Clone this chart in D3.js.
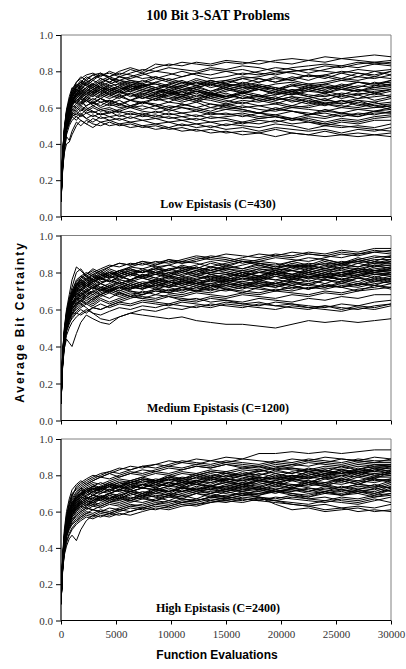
<!DOCTYPE html>
<html>
<head>
<meta charset="utf-8">
<script src="https://cdn.jsdelivr.net/npm/d3@7"></script>
<style>
  html, body { margin: 0; padding: 0; background: #fff; }
  svg { display: block; }
</style>
</head>
<body>
<svg id="chart" width="406" height="669"></svg>
<script>
// ---- DATA (bit certainty, in hundredths) ----
const evaluations = [0,150,300,500,750,1000,1400,1800,2300,2900,3600,4400,5300,6300,7400,8600,9800,11000,12300,13600,15000,16500,18000,19500,21000,22500,24000,25500,27000,28500,30000];

const lowRuns = [
[12,34,48,58,64,70,74,76,78, 79,77,80,78,81,79,82,84,83,85,84,86,85,84,86,87,86,88,87,88,89,88],
[10,32,45,55,62,67,72,75,73, 76,78,77,80,82,80,84,83,85,84,83,85,84,86,85,84,86,85,87,86,85,86],
[14,36,47,56,63,68,71,74,77, 75,78,79,77,79,81,80,82,81,80,82,81,83,82,80,82,83,84,83,85,84,85],
[9,30,44,53,60,66,70,73,75, 78,76,74,77,76,78,80,79,77,79,81,80,78,80,82,81,79,81,83,82,84,83],
[11,33,46,57,64,69,73,71,74, 72,75,77,79,78,76,77,75,77,79,78,80,81,79,78,80,81,80,79,81,80,81],
[13,35,49,59,66,71,69,72,76, 78,79,76,75,77,79,76,78,80,78,76,77,79,78,80,79,77,78,80,79,78,80],
[8,28,41,51,59,64,68,70,73, 71,74,76,73,75,74,77,75,73,76,74,75,77,76,74,76,78,77,75,77,76,78],
[10,31,43,54,61,65,67,71,69, 72,70,73,75,73,72,74,76,74,73,75,73,72,74,76,75,73,74,76,75,77,76],
[12,33,47,56,62,67,70,68,71, 73,71,70,72,74,73,71,73,75,72,74,72,73,71,73,74,72,73,75,74,73,75],
[9,29,42,52,60,63,68,70,67, 70,72,74,71,70,72,73,71,72,74,71,73,71,72,70,72,73,71,72,74,73,74],
[11,32,44,55,61,66,69,66,69, 71,69,72,73,71,69,70,72,70,71,73,70,72,70,71,69,71,72,70,72,71,73],
[13,34,46,54,60,64,66,69,71, 68,70,68,70,72,71,69,68,70,69,67,69,71,70,68,70,69,71,70,69,71,72],
[10,30,43,53,58,62,65,68,66, 69,67,70,68,69,67,70,69,67,69,68,66,68,70,68,67,69,68,70,69,70,71],
[8,27,40,50,57,61,64,66,69, 67,70,67,69,66,68,66,68,67,65,67,66,68,66,67,69,67,66,68,67,69,70],
[12,33,45,54,59,63,63,66,64, 67,65,68,66,68,65,67,65,66,68,65,67,65,66,64,66,65,67,66,68,67,69],
[10,31,44,52,57,62,65,63,66, 64,67,65,67,64,66,64,65,63,65,64,62,64,63,65,64,62,64,63,65,66,67],
[11,30,42,51,56,60,62,65,63, 65,63,64,62,64,63,61,63,62,60,62,61,63,61,62,60,61,63,62,64,63,65],
[9,28,39,49,55,59,61,63,61, 63,65,62,64,61,63,62,60,61,63,60,62,60,61,59,61,60,62,61,60,62,63],
[13,33,44,53,57,61,60,62,64, 61,63,61,62,60,61,59,61,60,58,60,59,61,59,58,60,59,58,60,59,60,61],
[10,30,41,50,55,58,60,58,61, 63,60,62,60,61,59,61,58,60,59,57,59,58,57,59,58,56,58,57,59,58,60],
[8,26,37,47,53,57,59,61,59, 61,59,60,58,60,58,57,59,57,58,56,57,55,57,56,58,57,55,57,56,58,59],
[12,31,42,51,55,59,58,60,58, 60,58,59,57,58,56,58,56,57,55,57,56,57,55,56,54,56,57,55,57,56,58],
[10,29,40,48,53,56,58,56,59, 57,59,57,58,56,57,55,57,55,56,54,55,56,54,55,53,55,54,56,55,57,57],
[11,30,41,50,54,57,56,59,57, 58,56,58,55,57,55,56,54,55,53,55,54,52,54,55,53,54,52,54,53,55,56],
[9,27,38,47,52,55,57,55,57, 55,57,55,56,54,56,54,55,53,54,52,53,51,53,52,54,53,51,53,52,54,55],
[12,30,40,49,53,56,55,57,54, 56,54,55,53,55,53,54,52,53,51,52,50,52,51,53,51,52,50,52,51,53,53],
[10,28,39,48,51,55,53,56,54, 52,55,53,54,52,53,51,52,50,51,49,51,50,49,51,50,48,50,49,50,49,51],
[8,25,36,45,50,53,55,53,51, 54,52,53,51,52,50,51,49,51,49,50,48,49,47,49,48,47,48,46,48,47,49],
[11,27,37,44,42,47,52,50,53, 51,50,52,50,51,49,50,48,49,47,48,46,47,46,48,46,45,47,45,46,45,46],
[9,26,35,40,41,45,50,53,51, 49,52,50,51,49,50,48,49,47,48,46,47,45,46,44,46,45,44,45,44,45,44],
[10,29,41,52,58,63,67,72,74, 76,79,77,75,74,72,70,68,66,64,62,60,59,57,55,54,52,51,50,49,48,47],
[12,32,45,55,61,65,62,65,60, 58,56,57,59,61,63,65,67,69,71,73,74,76,77,79,80,81,83,82,84,85,84],
[11,33,46,56,63,68,72,70,73, 71,74,72,70,73,71,74,72,70,72,69,71,68,70,67,69,66,68,65,67,64,66],
[10,31,44,54,61,66,71,74,72, 75,73,76,74,72,75,73,71,74,72,75,73,76,74,77,75,78,76,79,77,80,78],
[12,34,47,57,63,67,66,70,68, 66,69,67,65,68,66,64,67,65,63,66,64,62,65,63,61,64,62,60,63,61,62],
[9,30,43,53,60,65,70,68,66, 69,72,70,68,71,69,67,70,68,71,69,72,70,73,71,69,72,70,73,71,74,72],
[13,35,48,58,64,69,74,77,75, 73,76,74,77,75,73,76,74,72,75,73,71,74,72,70,73,71,69,72,70,68,70],
[11,32,45,55,60,64,67,65,68, 70,68,71,69,72,70,68,71,69,66,68,65,67,64,66,63,65,62,64,61,63,60],
[10,30,42,52,58,63,68,66,64, 62,65,63,66,64,67,65,68,66,69,67,70,68,71,69,72,70,73,71,74,72,75],
[12,33,46,56,62,66,64,62,65, 63,61,64,62,60,63,61,59,62,60,58,61,59,57,60,58,56,59,57,55,58,57],
[9,29,42,51,58,62,66,69,67, 70,68,66,69,67,65,68,66,64,67,65,63,66,64,62,65,63,61,64,62,60,61],
[11,32,44,53,59,64,69,72,70, 73,71,69,72,70,73,71,69,72,70,68,71,69,72,70,68,71,69,67,70,68,70],
[12,34,47,57,63,68,72,74,72, 70,73,71,69,72,70,68,70,67,69,66,68,65,67,64,66,63,65,62,64,61,59],
[10,31,44,54,60,64,63,61,64, 62,65,63,61,64,62,65,63,66,64,67,65,68,66,69,67,70,68,71,69,72,73],
[11,32,45,55,62,67,70,67,70, 68,71,69,67,70,68,66,69,67,70,68,66,69,67,65,68,66,64,67,65,68,66],
[9,28,41,51,57,61,65,67,65, 68,66,69,71,69,72,70,73,71,74,72,75,73,76,74,77,75,78,76,79,77,80]
];

const mediumRuns = [
[12,36,48,58,66,72,80,82,78, 80,82,84,83,85,84,86,85,87,89,88,90,89,88,90,89,91,90,92,91,93,93],
[10,34,46,56,64,70,76,78,80, 78,81,83,85,84,86,84,87,85,86,88,87,85,87,89,88,90,89,88,90,91,92],
[13,37,49,59,65,69,73,77,79, 81,79,82,80,83,85,83,84,86,85,83,85,87,86,88,87,86,88,90,89,91,90],
[11,35,47,57,63,68,72,75,77, 79,81,78,81,82,80,82,84,82,84,86,84,86,85,84,86,88,87,85,87,89,88],
[9,33,45,55,62,67,71,74,76, 78,76,79,81,79,81,80,82,83,81,83,82,84,86,85,83,85,84,86,85,87,87],
[12,36,48,57,63,67,70,73,75, 77,79,77,79,81,80,82,80,81,83,81,83,82,84,82,84,83,85,84,86,85,86],
[10,33,45,54,61,66,69,72,74, 76,74,77,78,76,78,80,79,81,79,80,82,80,82,81,83,84,82,84,83,85,85],
[11,34,46,55,61,65,70,71,73, 75,77,75,77,79,77,79,78,80,78,80,79,81,80,82,81,83,81,83,82,84,84],
[13,35,47,56,62,66,68,71,74, 72,75,76,74,76,78,76,78,77,79,77,79,78,80,79,81,80,82,81,80,82,83],
[9,32,44,53,59,63,67,70,72, 74,72,74,76,75,77,75,77,76,78,76,78,80,78,80,79,81,79,80,82,81,82],
[12,35,46,55,60,64,66,69,71, 73,71,73,75,73,75,74,76,75,77,78,76,78,77,79,78,80,78,80,79,81,81],
[10,33,44,53,58,63,65,68,70, 72,70,72,74,72,74,76,75,74,76,75,77,76,78,76,78,77,79,78,80,79,80],
[11,32,43,52,58,62,64,67,70, 68,71,70,72,74,72,73,75,73,75,74,76,75,77,76,75,77,76,78,77,79,79],
[9,31,42,51,57,61,66,66,69, 67,70,72,70,72,71,73,72,74,72,74,73,75,74,73,75,74,76,75,77,76,78],
[12,34,45,53,58,61,63,66,68, 66,69,71,69,71,73,71,73,72,71,73,72,74,73,72,74,73,72,74,73,75,77],
[10,32,43,52,56,60,63,65,67, 65,68,70,68,70,69,71,70,72,70,71,70,72,71,70,72,71,73,72,74,73,76],
[11,33,44,51,55,59,62,64,66, 64,67,69,67,69,68,70,69,68,70,69,71,70,69,71,70,72,71,73,72,74,75],
[9,30,41,49,54,57,61,63,65, 63,66,64,66,68,67,66,68,67,69,68,67,69,68,70,69,68,70,69,71,72,74],
[12,33,43,51,55,58,60,62,64, 62,65,63,65,67,66,65,67,66,65,67,66,68,67,66,68,67,69,68,70,71,72],
[10,31,41,48,52,56,59,61,63, 61,60,62,64,63,65,64,63,65,64,66,65,64,66,65,64,66,65,67,66,68,68],
[11,32,42,49,53,55,58,60,58, 61,63,61,63,62,64,63,62,64,63,62,64,63,62,64,63,62,61,63,62,64,65],
[9,29,39,46,50,53,56,58,60, 58,57,59,61,60,62,61,63,62,61,63,62,61,63,62,61,60,62,61,60,62,63],
[10,30,39,44,42,40,47,53,57, 55,53,52,56,58,60,59,61,60,62,61,63,62,61,60,62,61,60,59,61,60,62],
[12,33,44,51,56,60,64,63,61, 58,55,54,56,58,57,56,55,56,54,53,52,52,51,50,52,54,53,54,53,54,55],
[11,34,46,55,62,68,74,77,79, 82,80,83,85,84,86,85,87,86,88,87,86,88,90,89,91,90,89,91,90,92,91],
[10,32,45,54,61,66,73,75,73, 76,78,80,79,81,80,82,81,83,82,80,82,81,83,82,81,79,81,80,82,81,83],
[13,36,50,60,68,76,83,81,78, 76,78,80,78,80,78,79,77,79,81,79,80,78,80,79,77,79,78,76,78,80,79],
[11,34,46,55,62,66,69,67,70, 72,74,76,74,76,74,75,73,75,74,76,75,77,76,78,76,78,77,79,81,80,82],
[10,31,43,51,55,58,58,57,59, 61,60,62,64,66,68,70,69,71,70,72,74,73,75,74,76,78,77,79,78,80,81],
[9,30,41,49,54,58,62,65,63, 66,68,70,72,71,73,72,70,72,74,73,71,73,72,74,73,71,73,72,74,73,72],
[12,35,47,56,63,68,72,70,73, 75,77,79,81,83,82,84,86,85,87,89,88,86,85,83,84,82,83,85,86,88,89],
[10,33,44,52,57,60,63,65,68, 70,72,71,69,67,66,68,67,65,66,64,65,63,64,62,63,61,62,60,62,61,63],
[11,34,46,56,63,68,73,76,78, 76,79,77,80,78,81,79,82,80,83,81,84,82,85,83,86,84,87,85,88,86,89],
[10,32,44,54,61,66,71,74,72, 75,77,75,78,76,79,77,75,78,76,79,77,80,78,81,79,82,80,83,81,84,82],
[12,35,47,57,64,69,74,72,75, 73,76,78,76,79,77,75,78,76,74,77,75,78,76,79,77,80,78,76,79,77,80],
[9,31,43,52,58,63,68,71,69, 72,70,73,71,74,72,75,73,76,74,72,75,73,76,74,77,75,78,76,74,77,75],
[11,33,45,55,62,67,70,73,76, 74,77,75,78,80,78,81,79,82,80,83,81,79,82,80,83,81,84,82,85,83,86],
[13,36,48,58,65,70,75,78,76, 79,77,80,78,76,79,77,80,78,81,79,77,80,78,81,79,77,80,78,81,79,78],
[10,32,44,53,59,64,67,70,73, 71,74,72,70,73,71,74,72,75,73,76,74,77,75,78,76,79,77,80,78,81,80],
[11,33,45,54,60,65,69,67,70, 68,71,69,72,70,68,71,69,72,70,73,71,69,72,70,73,71,74,72,70,73,71],
[12,34,46,56,62,67,71,74,77, 75,78,81,79,82,80,83,81,84,82,85,83,86,84,82,85,83,86,84,87,85,87],
[9,30,42,51,57,62,66,69,67, 70,68,71,73,71,74,72,75,73,76,78,76,79,77,80,78,81,79,82,80,83,84],
[10,32,45,55,62,67,72,75,73, 71,74,72,75,73,71,74,72,70,73,71,74,72,75,73,71,74,72,75,73,76,74],
[12,35,47,57,63,68,73,76,74, 77,80,78,81,79,82,80,78,81,79,82,80,78,81,79,82,84,82,85,83,86,85],
[11,33,44,53,59,63,66,64,67, 65,68,66,69,67,70,68,71,69,72,70,73,71,74,72,75,73,76,74,77,75,77],
[10,31,43,52,58,62,65,68,71, 69,72,70,73,75,73,76,74,77,75,73,76,74,72,75,73,76,74,77,75,78,76]
];

const highRuns = [
[11,34,47,57,64,69,73,75,77, 79,81,82,84,83,85,86,88,87,89,88,90,89,92,92,93,92,93,92,93,94,94],
[10,33,46,56,63,68,74,76,78, 80,79,81,83,85,84,86,85,87,86,88,87,89,88,87,89,88,90,89,88,90,89],
[12,35,48,58,65,70,72,74,76, 78,80,82,81,83,85,84,86,88,87,86,88,87,86,88,87,89,88,87,89,88,88],
[9,31,44,54,61,66,70,73,75, 77,79,78,80,82,81,83,85,84,86,85,87,86,85,87,86,88,87,89,88,87,87],
[11,33,45,54,60,64,69,72,74, 76,75,77,79,81,80,82,81,83,85,84,86,85,84,86,85,87,86,85,87,86,86],
[10,32,44,53,59,63,67,70,73, 72,74,76,78,77,79,81,80,82,81,83,82,84,83,85,84,83,85,84,86,85,85],
[12,34,45,54,59,63,66,69,71, 73,72,75,77,76,78,77,79,81,80,82,81,80,82,84,83,82,84,83,85,84,84],
[9,30,42,51,57,62,65,68,70, 72,74,73,75,77,76,78,77,79,78,80,79,81,80,82,81,83,82,81,83,82,83],
[11,32,43,52,57,61,64,67,69, 71,70,72,74,73,75,77,76,78,77,79,78,80,79,78,80,79,81,80,82,81,82],
[10,31,42,50,56,60,63,66,68, 67,70,72,71,73,75,74,76,75,77,76,78,77,79,78,77,79,78,80,79,81,80],
[12,33,44,52,57,60,62,65,67, 69,68,70,72,71,73,72,74,76,75,74,76,75,77,76,78,77,76,78,77,79,79],
[9,29,40,49,54,58,62,64,66, 65,68,67,69,71,70,72,71,73,72,74,73,75,74,76,75,74,76,75,77,76,78],
[11,31,42,50,55,58,61,63,65, 67,66,68,67,69,71,70,72,71,73,72,71,73,72,74,73,75,74,73,75,74,77],
[10,30,40,48,53,57,60,62,64, 63,65,67,66,68,67,69,68,70,72,71,70,72,71,73,72,71,73,72,74,73,76],
[12,32,42,50,54,57,59,61,63, 65,64,66,65,67,69,68,70,69,71,70,72,71,70,72,71,73,72,71,73,72,75],
[9,28,38,47,52,55,58,60,62, 61,63,65,64,66,65,67,69,68,70,69,68,70,69,71,70,69,71,70,72,71,74],
[11,30,40,48,52,55,57,59,61, 63,62,64,63,65,67,66,68,67,66,68,67,69,68,67,69,68,70,69,71,70,73],
[10,29,39,46,51,54,56,58,60, 59,61,60,62,64,63,65,64,66,65,67,66,68,67,66,68,67,66,68,67,69,72],
[12,31,41,47,51,53,55,57,59, 61,60,59,61,63,62,64,66,65,67,66,68,67,66,68,67,66,65,67,66,68,70],
[9,27,37,44,48,51,54,56,58, 57,59,58,60,62,61,63,62,64,63,65,66,65,67,66,65,64,66,65,64,66,68],
[10,28,36,41,45,47,44,50,55, 58,57,59,58,60,62,61,63,65,64,66,65,67,66,65,64,63,64,62,63,62,64],
[11,29,37,43,47,50,53,55,57, 56,58,57,59,58,60,62,61,63,64,65,67,66,68,64,61,62,60,61,62,60,61],
[13,36,50,60,67,72,75,77,75, 77,79,81,79,81,83,82,84,83,85,84,86,84,85,83,84,82,83,81,82,80,81],
[10,33,46,56,63,67,71,73,71, 74,76,74,76,75,77,76,78,77,76,78,77,75,77,76,74,76,75,73,75,74,73],
[11,32,44,53,58,62,64,66,64, 66,68,70,72,71,73,72,74,73,75,74,72,74,73,71,73,72,70,72,71,69,70],
[12,34,47,55,60,64,68,70,72, 71,73,72,74,76,78,77,79,78,80,82,81,83,82,84,86,85,87,86,88,87,89],
[10,31,42,50,55,59,61,63,62, 64,63,65,67,66,68,70,69,71,73,72,74,76,75,77,79,78,80,82,81,83,84],
[9,29,39,46,50,53,55,57,59, 58,60,59,61,60,62,64,63,65,66,68,67,69,70,71,69,67,68,66,65,67,65],
[11,33,46,55,61,65,68,70,72, 74,73,75,74,76,75,74,76,75,77,76,78,77,79,78,80,79,81,83,82,84,85],
[12,34,46,54,59,62,65,68,67, 69,71,70,72,74,73,75,74,76,75,73,74,72,73,71,72,70,71,69,70,68,69],
[10,32,43,51,56,60,63,65,67, 69,68,70,69,71,73,72,71,73,72,74,76,78,77,79,78,80,82,81,83,85,86],
[11,31,41,49,53,56,58,60,62, 61,60,62,61,63,64,66,65,67,66,68,69,70,68,66,64,63,61,62,60,61,60],
[11,32,44,53,59,64,68,71,73, 75,73,76,74,77,79,77,80,78,81,79,82,80,83,81,79,82,80,83,81,84,82],
[10,30,41,50,56,60,64,67,69, 71,73,71,74,72,75,73,76,74,77,75,78,76,79,77,80,78,81,79,82,80,81],
[12,34,46,55,61,65,69,72,70, 73,71,74,76,74,77,75,78,76,79,77,80,78,81,79,82,80,83,81,84,82,85],
[9,29,40,48,54,58,61,64,66, 68,66,69,67,70,68,71,73,71,74,72,75,73,76,74,77,75,78,76,79,77,78],
[11,31,42,51,57,61,65,68,71, 69,72,74,72,75,73,76,74,77,75,78,76,74,77,75,78,76,79,77,75,78,76],
[10,31,43,52,58,63,66,69,72, 74,72,75,73,76,78,76,79,77,80,78,81,79,77,80,78,81,79,82,80,83,81],
[12,33,44,52,57,61,63,66,68, 66,69,67,70,72,70,73,71,74,72,70,73,71,74,72,75,73,71,74,72,75,73],
[9,28,39,47,53,57,60,63,65, 64,67,65,68,66,69,71,69,72,70,73,71,74,72,75,73,76,74,77,75,78,77],
[11,32,43,52,58,62,66,69,71, 73,71,74,72,75,73,76,78,76,79,81,79,82,80,83,81,84,82,85,83,86,85],
[10,30,41,49,54,58,62,65,63, 66,68,66,69,67,70,68,66,69,67,70,68,71,69,72,70,68,71,69,72,70,72],
[12,33,45,54,60,64,67,70,72, 70,73,75,73,76,74,77,75,73,76,74,77,75,78,76,74,77,75,78,76,79,80],
[9,29,41,50,56,60,63,65,67, 69,67,70,68,71,69,72,70,73,71,74,72,75,73,76,78,76,79,77,80,78,82],
[11,31,42,50,55,59,62,64,66, 65,67,69,67,70,68,66,69,67,70,68,71,69,72,70,73,71,74,72,70,73,71],
[10,32,44,53,59,63,67,70,68, 71,73,71,74,72,75,73,76,74,77,79,77,80,78,81,79,82,80,78,81,79,83]
];

const panelLabels = ["Low Epistasis (C=430)", "Medium Epistasis (C=1200)", "High Epistasis (C=2400)"];
const yTicks = [0, 0.2, 0.4, 0.6, 0.8, 1.0];
const xTicks = [0, 5000, 10000, 15000, 20000, 25000, 30000];
const titleText = "100 Bit 3-SAT Problems";
const yTitle = "Average Bit Certainty";
const xTitle = "Function Evaluations";

// ---- LAYOUT ----
const svg = d3.select("#chart");
const left = 61, right = 391;
const panelBoxes = [
  {top: 35, bottom: 216.5},
  {top: 235.5, bottom: 420.5},
  {top: 439, bottom: 620.5}
];
const serif = "'Liberation Serif', 'Times New Roman', serif";
const sans = "'Liberation Sans', Arial, sans-serif";

const x = d3.scaleLinear().domain([0, 30000]).range([left, right]);

const allRuns = [lowRuns, mediumRuns, highRuns];

allRuns.forEach((runs, p) => {
  const box = panelBoxes[p];
  const y = d3.scaleLinear().domain([0, 1]).range([box.bottom, box.top]);
  const g = svg.append("g");

  // frame (top & right gray)
  g.append("path")
    .attr("d", `M${left},${box.top}H${right}V${box.bottom}`)
    .attr("fill", "none").attr("stroke", "#808080").attr("stroke-width", 1);

  const clipId = "clip" + p;
  svg.append("clipPath").attr("id", clipId)
    .append("rect").attr("x", left).attr("y", box.top - 1)
    .attr("width", right - left).attr("height", box.bottom - box.top + 1);

  const line = d3.line()
    .x((d, i) => x(evaluations[i]))
    .y(d => y(d / 100));

  g.append("g").attr("clip-path", `url(#${clipId})`)
    .selectAll("path.run").data(runs).join("path")
    .attr("class", "run")
    .attr("d", line)
    .attr("fill", "none")
    .attr("stroke", "#000")
    .attr("stroke-width", 1)
    .attr("stroke-linejoin", "miter");

  // y axis
  const yAxis = d3.axisLeft(y).tickValues(yTicks).tickFormat(d3.format(".1f")).tickSize(5).tickPadding(3);
  const ya = g.append("g").attr("transform", `translate(${left},0)`).call(yAxis);
  ya.select(".domain").attr("stroke", "#000").attr("stroke-width", 1.2).attr("d", `M0,${box.top}V${box.bottom}`);
  ya.selectAll(".tick line").attr("stroke", "#000");
  ya.selectAll(".tick text").attr("font-family", serif).attr("font-size", 11).attr("fill", "#333");

  // x axis
  const xAxis = d3.axisBottom(x).tickValues(xTicks).tickSize(4).tickPadding(6)
    .tickFormat(p === 2 ? d3.format("d") : () => "");
  const xa = g.append("g").attr("transform", `translate(0,${box.bottom})`).call(xAxis);
  xa.select(".domain").attr("stroke", "#000").attr("stroke-width", 1.2).attr("d", `M${left},0H${right}`);
  xa.selectAll(".tick line").attr("stroke", "#000");
  xa.selectAll(".tick text").attr("font-family", serif).attr("font-size", 11).attr("fill", "#333");

  // panel label
  g.append("text")
    .attr("x", 218).attr("y", box.bottom - 9)
    .attr("text-anchor", "middle")
    .attr("font-family", serif).attr("font-weight", "bold").attr("font-size", 12)
    .attr("fill", "#000")
    .text(panelLabels[p]);
});

// title
svg.append("text")
  .attr("x", 218).attr("y", 20)
  .attr("text-anchor", "middle")
  .attr("font-family", serif).attr("font-weight", "bold").attr("font-size", 14)
  .text(titleText);

// y title
svg.append("text")
  .attr("transform", "translate(23.5,322) rotate(-90)")
  .attr("text-anchor", "middle")
  .attr("font-family", sans).attr("font-weight", "bold").attr("font-size", 12)
  .attr("letter-spacing", 1.9)
  .text(yTitle);

// x title
svg.append("text")
  .attr("x", 217).attr("y", 659)
  .attr("text-anchor", "middle")
  .attr("font-family", sans).attr("font-weight", "bold").attr("font-size", 12)
  .text(xTitle);
</script>
</body>
</html>
